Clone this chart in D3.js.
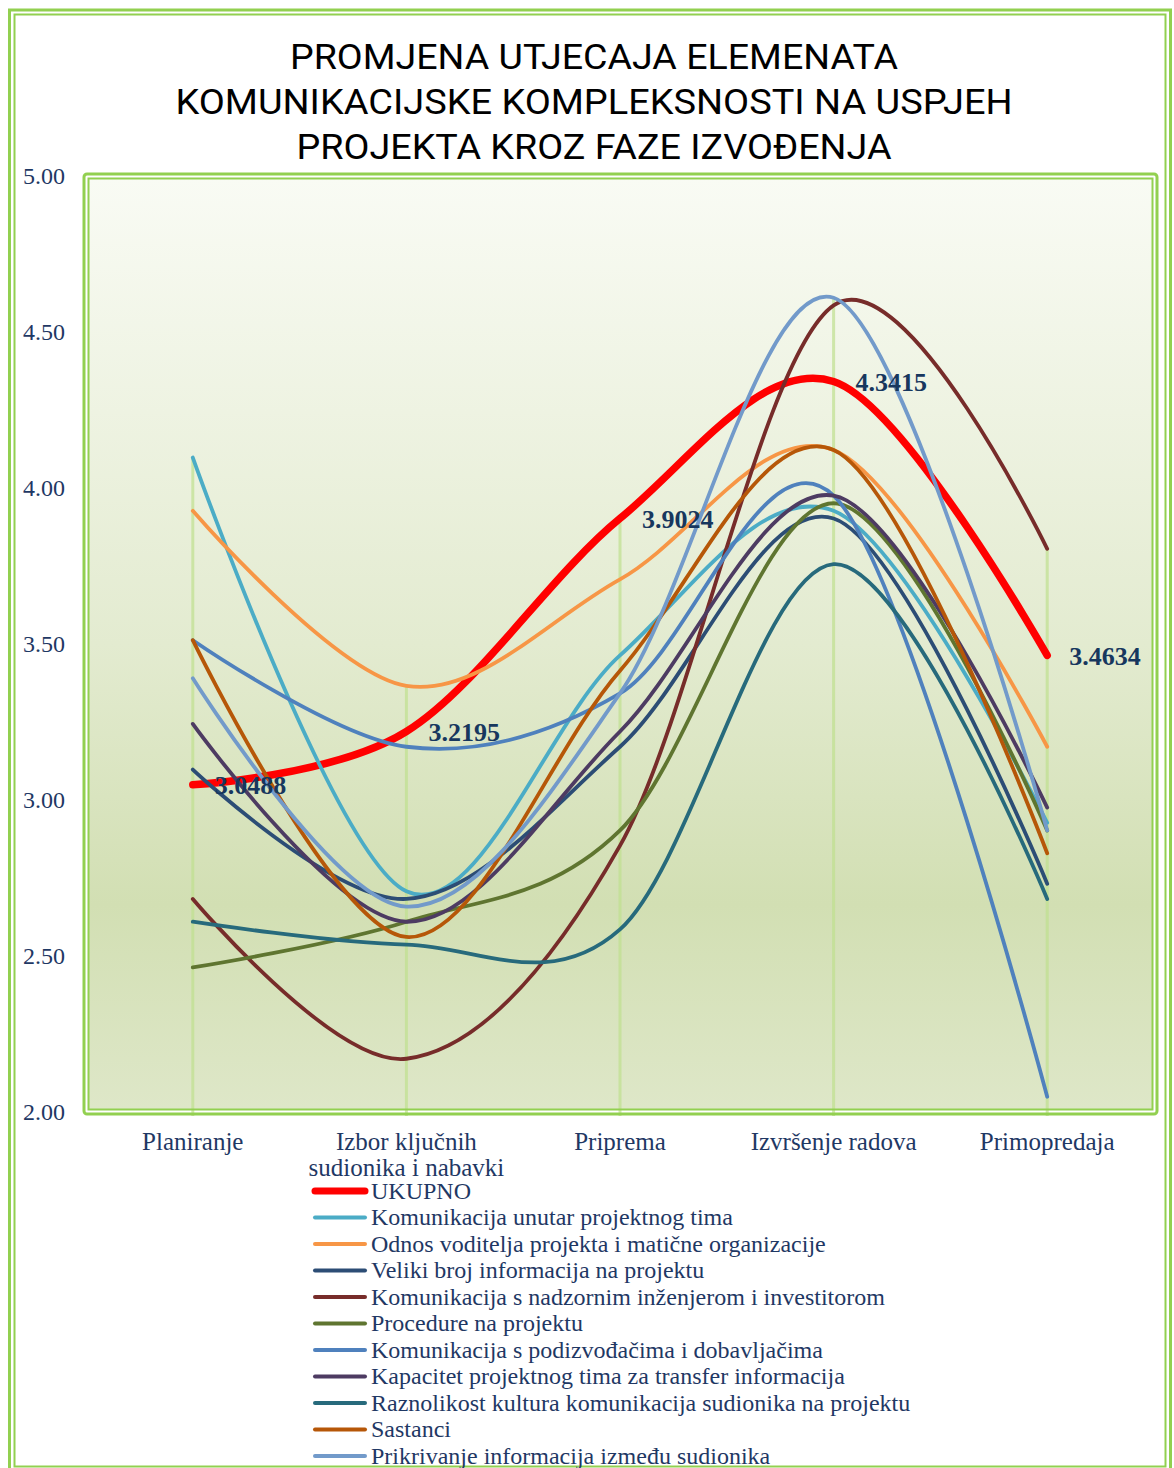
<!DOCTYPE html>
<html>
<head>
<meta charset="utf-8">
<script src="https://cdn.jsdelivr.net/npm/d3@7"></script>
<style>
  html, body { margin:0; padding:0; background:#fff; }
  svg { display:block; }
</style>
</head>
<body>
<svg id="chart" width="1174" height="1468"></svg>
<script>
/* ------------------------------------------------------------------
   Data
   ------------------------------------------------------------------ */
const titleLines = [
  "PROMJENA UTJECAJA ELEMENATA",
  "KOMUNIKACIJSKE KOMPLEKSNOSTI NA USPJEH",
  "PROJEKTA KROZ FAZE IZVOĐENJA"
];

const phases     = ["Planiranje", "Izbor ključnih sudionika i nabavki", "Priprema", "Izvršenje radova", "Primopredaja"];
const phaseLines = [["Planiranje"], ["Izbor ključnih", "sudionika i nabavki"], ["Priprema"], ["Izvršenje radova"], ["Primopredaja"]];
const yTicks     = [2, 2.5, 3, 3.5, 4, 4.5, 5];

const seriesNames = [
  "UKUPNO",
  "Komunikacija unutar projektnog tima",
  "Odnos voditelja projekta i matične organizacije",
  "Veliki broj informacija na projektu",
  "Komunikacija s nadzornim inženjerom i investitorom",
  "Procedure na projektu",
  "Komunikacija s podizvođačima i dobavljačima",
  "Kapacitet projektnog tima za transfer informacija",
  "Raznolikost kultura komunikacija sudionika na projektu",
  "Sastanci",
  "Prikrivanje informacija između sudionika"
];

const ukupno       = [3.0488, 3.2195, 3.9024, 4.3415, 3.4634];
const komTim       = [4.0976, 2.7073, 3.4634, 3.9268, 2.9268];
const odnos        = [3.9268, 3.3659, 3.7073, 4.1220, 3.1707];
const velikiBroj   = [3.0976, 2.6829, 3.1707, 3.9024, 2.7317];
const komNadzor    = [2.6829, 2.1707, 2.8537, 4.5854, 3.8049];
const procedure    = [2.4634, 2.6098, 2.9024, 3.9512, 2.9024];
const komPodizv    = [3.5122, 3.1707, 3.3415, 3.9756, 2.0488];
const kapacitet    = [3.2439, 2.6098, 3.2195, 3.9756, 2.9756];
const raznolikost  = [2.6098, 2.5366, 2.5854, 3.7561, 2.6829];
const sastanci     = [3.5122, 2.5610, 3.4146, 4.1220, 2.8293];
const prikrivanje  = [3.3902, 2.6585, 3.3415, 4.6098, 2.9024];

const seriesValues = [ukupno, komTim, odnos, velikiBroj, komNadzor, procedure,
                      komPodizv, kapacitet, raznolikost, sastanci, prikrivanje];

const seriesColors = ["#ff0000", "#4bacc6", "#f79646", "#2c4d75", "#772c2a", "#5f7530",
                      "#4f81bd", "#4d3b62", "#276a7c", "#b65708", "#729aca"];

/* ------------------------------------------------------------------
   Setup
   ------------------------------------------------------------------ */
const svg    = d3.select("#chart");
const green  = "#92d050";
const navy   = "#1f3864";
const serif  = "'Liberation Serif', 'Times New Roman', serif";

const x = d3.scalePoint().domain(phases).range([86, 1154]).padding(0.5);
const y = d3.scaleLinear().domain([2, 5]).range([1112, 176]);

/* ---------- gradient for plot area ---------- */
const defs = svg.append("defs");
const grad = defs.append("linearGradient").attr("id", "plotBg")
  .attr("x1", 0).attr("y1", 0).attr("x2", 0).attr("y2", 1);
grad.append("stop").attr("offset", "0%").attr("stop-color", "#f9fbf4");
grad.append("stop").attr("offset", "50%").attr("stop-color", "#e3ebd0");
grad.append("stop").attr("offset", "78%").attr("stop-color", "#d2dfb3");
grad.append("stop").attr("offset", "100%").attr("stop-color", "#dee7c8");

/* ---------- outer chart border (double) ---------- */
svg.append("rect").attr("x", 9.5).attr("y", 10).attr("width", 1161).attr("height", 1461)
  .attr("fill", "none").attr("stroke", green).attr("stroke-width", 3);
svg.append("rect").attr("x", 14.5).attr("y", 14.5).attr("width", 1151).attr("height", 1452)
  .attr("fill", "none").attr("stroke", green).attr("stroke-width", 2);

/* ---------- title ---------- */
const titleWidths = [608, 837, 595];
svg.append("g").selectAll("text")
  .data(titleLines)
  .enter().append("text")
  .attr("x", 594)
  .attr("y", (d, i) => 69 + i * 45)
  .attr("text-anchor", "middle")
  .attr("textLength", (d, i) => titleWidths[i])
  .attr("lengthAdjust", "spacingAndGlyphs")
  .style("font-family", "Roboto, 'DejaVu Sans', sans-serif")
  .style("font-weight", 400)
  .style("font-size", "35px")
  .style("fill", "#000")
  .text(d => d);

/* ---------- plot area ---------- */
svg.append("rect").attr("x", 88.5).attr("y", 178.5).attr("width", 1064).attr("height", 931)
  .attr("fill", "url(#plotBg)");

/* drop lines: from the highest point of each phase down to the axis */
const maxPerPhase = phases.map((p, i) => d3.max(seriesValues, s => s[i]));
svg.append("g").selectAll("line")
  .data(phases)
  .enter().append("line")
  .attr("x1", d => x(d)).attr("x2", d => x(d))
  .attr("y1", (d, i) => y(maxPerPhase[i]))
  .attr("y2", y(2) + 4)
  .attr("stroke", "#bfe08f").attr("stroke-opacity", 0.7).attr("stroke-width", 3);

/* plot border (double) */
svg.append("rect").attr("x", 84).attr("y", 174).attr("width", 1073).attr("height", 940).attr("rx", 3)
  .attr("fill", "none").attr("stroke", green).attr("stroke-width", 3);
svg.append("rect").attr("x", 88.5).attr("y", 178.5).attr("width", 1064).attr("height", 931)
  .attr("fill", "none").attr("stroke", green).attr("stroke-width", 2);

/* ---------- y axis ---------- */
const yAxis = d3.axisLeft(y).tickValues(yTicks).tickFormat(d3.format(".2f")).tickSize(0).tickPadding(3);
const yG = svg.append("g").attr("transform", "translate(68,0)").call(yAxis);
yG.select(".domain").remove();
yG.selectAll("text")
  .style("font-family", serif).style("font-size", "24px").style("fill", navy);

/* ---------- x labels ---------- */
const xLab = svg.append("g").selectAll("text")
  .data(phases)
  .enter().append("text")
  .attr("x", d => x(d))
  .attr("y", 1150)
  .attr("text-anchor", "middle")
  .style("font-family", serif).style("font-size", "25px").style("fill", navy);
xLab.selectAll("tspan")
  .data((d, i) => phaseLines[i])
  .enter().append("tspan")
  .attr("x", function() { return this.parentNode.getAttribute("x"); })
  .attr("dy", (d, i) => i === 0 ? 0 : 26)
  .text(d => d);

/* ---------- lines ---------- */
const line = d3.line()
  .x((d, i) => x(phases[i]))
  .y(d => y(d))
  .curve(d3.curveCardinal.tension(0));

svg.append("g").selectAll("path")
  .data(seriesValues)
  .enter().append("path")
  .attr("d", d => line(d))
  .attr("fill", "none")
  .attr("stroke", (d, i) => seriesColors[i])
  .attr("stroke-width", (d, i) => i === 0 ? 7.5 : 3.8)
  .attr("stroke-linecap", "round")
  .attr("stroke-linejoin", "round");

/* ---------- data labels (UKUPNO) ---------- */
svg.append("g").selectAll("text")
  .data(ukupno)
  .enter().append("text")
  .attr("x", (d, i) => x(phases[i]) + 22)
  .attr("y", d => y(d))
  .attr("dy", "0.35em")
  .style("font-family", serif).style("font-weight", "bold").style("font-size", "26px")
  .style("fill", "#17375e")
  .text(d => d.toFixed(4));

/* ---------- legend ---------- */
const legend = svg.append("g").selectAll("g")
  .data(seriesNames)
  .enter().append("g")
  .attr("transform", (d, i) => `translate(0,${1191 + i * 26.5})`);
legend.append("line")
  .attr("x1", 315).attr("x2", 365).attr("y1", 0).attr("y2", 0)
  .attr("stroke", (d, i) => seriesColors[i])
  .attr("stroke-width", (d, i) => i === 0 ? 7 : 4)
  .attr("stroke-linecap", "round");
legend.append("text")
  .attr("x", 371).attr("y", 0).attr("dy", "0.33em")
  .style("font-family", serif).style("font-size", "24px").style("fill", navy)
  .text(d => d);
</script>
</body>
</html>
